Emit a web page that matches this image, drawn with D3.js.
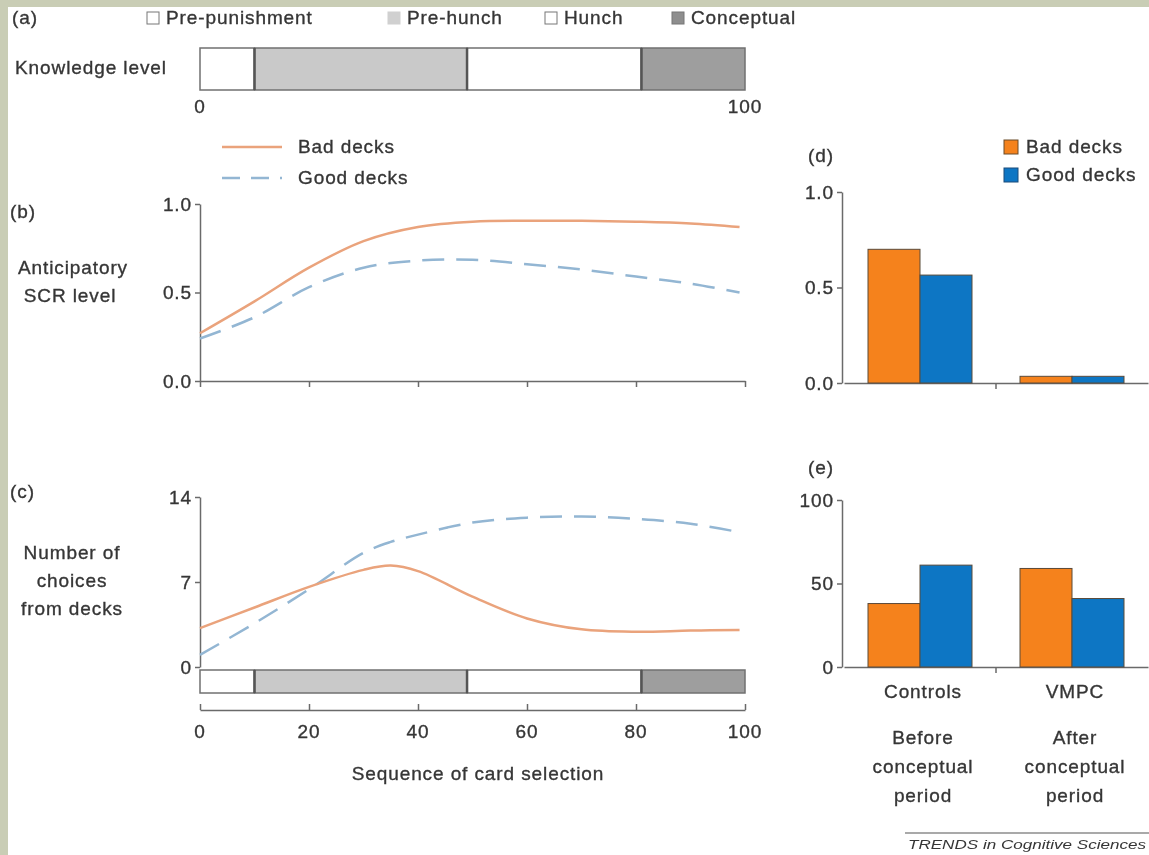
<!DOCTYPE html>
<html>
<head>
<meta charset="utf-8">
<script src="https://cdn.jsdelivr.net/npm/d3@7"></script>
<style>
  html, body { margin: 0; padding: 0; background: #c9cdb5; }
  svg { display: block; }
  text { font-family: "Liberation Sans", Arial, sans-serif; fill: #363636; letter-spacing: 0.9px;
         stroke: #363636; stroke-width: 0.35px; }
</style>
</head>
<body>
<div id="chart"></div>
<script>
// knowledge phases
const phases = ['Pre-punishment', 'Pre-hunch', 'Hunch', 'Conceptual']
const phaseStart = [0, 10, 49, 81]
const phaseEnd = [10, 49, 81, 100]
const phaseColor = ['#ffffff', '#c9c9c9', '#ffffff', '#9e9e9e']

// (b) anticipatory SCR
const seq = [0, 10, 20, 30, 40, 50, 60, 70, 80, 90, 99]
const scrBad = [0.27, 0.45, 0.64, 0.79, 0.87, 0.9, 0.905, 0.905, 0.9, 0.89, 0.87]
const scrGood = [0.24, 0.36, 0.53, 0.64, 0.68, 0.685, 0.66, 0.63, 0.59, 0.55, 0.50]

// (c) number of choices
const seqC = [0, 10, 20, 30, 35, 40, 50, 60, 70, 80, 90, 99]
const choiceBad = [3.2, 4.9, 6.6, 8.0, 8.35, 7.9, 5.8, 4.0, 3.1, 2.9, 3.0, 3.05]
const choiceGood = [1.0, 3.6, 6.4, 9.4, 10.3, 10.9, 11.9, 12.3, 12.4, 12.2, 11.8, 11.1]

// (d), (e) bars
const groups = ['Controls', 'VMPC']
const periods = [['Before', 'conceptual', 'period'], ['After', 'conceptual', 'period']]
const series = ['Bad decks', 'Good decks']
const dBad = [0.70, 0.035]
const dGood = [0.565, 0.035]
const eBad = [38, 59]
const eGood = [61, 41]

const orangeLine = '#eaa37c', blueLine = '#93b6d3'
const orangeBar = '#f5821f', blueBar = '#0a76c4'
const axisCol = '#6a6a6a'
const FS = 19

const W = 1149, H = 855
const root = d3.select('#chart').append('svg').attr('width', W).attr('height', H)
root.append('defs').append('filter').attr('id', 'soft')
  .append('feGaussianBlur').attr('stdDeviation', 0.55)
root.append('rect').attr('x', 8).attr('y', 7).attr('width', W - 8).attr('height', H - 7).attr('fill', '#fff')
const svg = root.append('g').attr('filter', 'url(#soft)')

const x = d3.scaleLinear().domain([0, 100]).range([200, 745])

function txt(g, s, tx, ty, anchor, size) {
  return g.append('text').attr('x', tx).attr('y', ty).attr('text-anchor', anchor || 'start')
    .style('font-size', (size || FS) + 'px').text(s)
}

function styleAxis(g) {
  g.selectAll('path, line').attr('stroke', axisCol).attr('stroke-width', 1.5)
  g.selectAll('text').style('font-size', FS + 'px').attr('fill', '#363636')
}

function knowledgeBar(y0, h) {
  svg.append('g').selectAll('rect').data(phases).enter().append('rect')
    .attr('x', (d, i) => x(phaseStart[i]))
    .attr('y', y0)
    .attr('width', (d, i) => x(phaseEnd[i]) - x(phaseStart[i]))
    .attr('height', h)
    .attr('fill', (d, i) => phaseColor[i])
    .attr('stroke', '#707070').attr('stroke-width', 1.5)
  // darker separators between phases
  svg.append('g').selectAll('line').data(phaseStart.slice(1)).enter().append('line')
    .attr('x1', d => x(d)).attr('x2', d => x(d))
    .attr('y1', y0).attr('y2', y0 + h)
    .attr('stroke', '#555').attr('stroke-width', 2.5)
}

// ---- (a)
txt(svg, '(a)', 12, 24)
const legA = svg.append('g')
const legAx = [147, 388, 545, 672]
phases.forEach((p, i) => {
  legA.append('rect').attr('x', legAx[i]).attr('y', 12).attr('width', 12).attr('height', 12)
    .attr('fill', phaseColor[i] === '#ffffff' ? '#fff' : (i === 1 ? '#d0d0d0' : '#8e8e8e'))
    .attr('stroke', i === 1 ? '#d0d0d0' : '#777').attr('stroke-width', 1)
  txt(legA, p, legAx[i] + 19, 24)
})
txt(svg, 'Knowledge level', 15, 74)
knowledgeBar(48, 42)
txt(svg, '0', x(0), 113, 'middle')
txt(svg, '100', x(100), 113, 'middle')

// ---- (b)
const yB = d3.scaleLinear().domain([0, 1]).range([381, 204])
const line = (sx, sy, xs) => d3.line().x((d, i) => sx(xs[i])).y(d => sy(d)).curve(d3.curveCatmullRom.alpha(0.5))

// legend for lines
svg.append('line').attr('x1', 222).attr('x2', 282).attr('y1', 147).attr('y2', 147)
  .attr('stroke', orangeLine).attr('stroke-width', 2.5)
txt(svg, 'Bad decks', 298, 153)
svg.append('line').attr('x1', 222).attr('x2', 282).attr('y1', 178).attr('y2', 178)
  .attr('stroke', blueLine).attr('stroke-width', 2.5).attr('stroke-dasharray', '18,11')
txt(svg, 'Good decks', 298, 184)

txt(svg, '(b)', 10, 218)
txt(svg, 'Anticipatory', 73, 274, 'middle')
txt(svg, 'SCR level', 70, 302, 'middle')

svg.append('g').attr('transform', 'translate(200,0)')
  .call(d3.axisLeft(yB).tickValues([0, 0.5, 1]).tickFormat(d3.format('.1f')).tickSize(5).tickSizeOuter(0))
  .call(styleAxis)
svg.append('g').attr('transform', 'translate(0,381)')
  .call(d3.axisBottom(x).tickValues([0, 20, 40, 60, 80, 100]).tickFormat('').tickSize(6).tickSizeOuter(0))
  .call(styleAxis)

svg.append('path').datum(scrGood).attr('d', line(x, yB, seq))
  .attr('fill', 'none').attr('stroke', blueLine).attr('stroke-width', 2.5).attr('stroke-dasharray', '22,12')
svg.append('path').datum(scrBad).attr('d', line(x, yB, seq))
  .attr('fill', 'none').attr('stroke', orangeLine).attr('stroke-width', 2.5)

// ---- (c)
const yC = d3.scaleLinear().domain([0, 14]).range([667, 497])
txt(svg, '(c)', 10, 498)
txt(svg, 'Number of', 72, 559, 'middle')
txt(svg, 'choices', 72, 587, 'middle')
txt(svg, 'from decks', 72, 615, 'middle')

svg.append('g').attr('transform', 'translate(200,0)')
  .call(d3.axisLeft(yC).tickValues([0, 7, 14]).tickSize(5).tickSizeOuter(0))
  .call(styleAxis)

knowledgeBar(670, 23)

svg.append('g').attr('transform', 'translate(0,710)')
  .call(d3.axisTop(x).tickValues([0, 20, 40, 60, 80, 100]).tickFormat('').tickSize(6).tickSizeOuter(0))
  .call(styleAxis)
svg.append('g').selectAll('text').data([0, 20, 40, 60, 80, 100]).enter().append('text')
  .attr('x', d => x(d)).attr('y', 738).attr('text-anchor', 'middle').style('font-size', FS + 'px').text(d => d)
txt(svg, 'Sequence of card selection', 478, 780, 'middle')

svg.append('path').datum(choiceGood).attr('d', line(x, yC, seqC))
  .attr('fill', 'none').attr('stroke', blueLine).attr('stroke-width', 2.5).attr('stroke-dasharray', '22,12')
svg.append('path').datum(choiceBad).attr('d', line(x, yC, seqC))
  .attr('fill', 'none').attr('stroke', orangeLine).attr('stroke-width', 2.5)

// ---- (d), (e) bar panels
const xg = d3.scaleBand().domain(groups).range([844, 1148])
const xs = d3.scaleBand().domain(series).range([24, 128])

function barPanel(yScale, bad, good, ticks, fmt, y0) {
  const g = svg.append('g')
  g.append('g').attr('transform', 'translate(842,0)')
    .call(d3.axisLeft(yScale).tickValues(ticks).tickFormat(fmt).tickSize(5).tickSizeOuter(0))
    .call(styleAxis)
  g.append('g').attr('transform', `translate(0,${y0})`)
    .call(d3.axisBottom(xg).tickValues([]).tickSizeOuter(0))
    .call(styleAxis)
  g.append('line').attr('x1', 996).attr('x2', 996).attr('y1', y0).attr('y2', y0 + 6)
    .attr('stroke', axisCol).attr('stroke-width', 1.5)
  const vals = [bad, good]
  series.forEach((s, si) => {
    g.selectAll('.b' + si).data(groups).enter().append('rect')
      .attr('x', d => xg(d) + xs(s))
      .attr('y', (d, i) => yScale(vals[si][i]))
      .attr('width', xs.bandwidth())
      .attr('height', (d, i) => y0 - yScale(vals[si][i]))
      .attr('fill', si === 0 ? orangeBar : blueBar)
      .attr('stroke', '#5a4a3a').attr('stroke-width', 1)
  })
}

const yD = d3.scaleLinear().domain([0, 1]).range([383, 192])
txt(svg, '(d)', 808, 162)
barPanel(yD, dBad, dGood, [0, 0.5, 1], d3.format('.1f'), 383)

svg.append('rect').attr('x', 1004).attr('y', 140).attr('width', 14).attr('height', 14)
  .attr('fill', orangeBar).attr('stroke', '#6a4a2a')
txt(svg, 'Bad decks', 1026, 153)
svg.append('rect').attr('x', 1004).attr('y', 168).attr('width', 14).attr('height', 14)
  .attr('fill', blueBar).attr('stroke', '#1a4a7a')
txt(svg, 'Good decks', 1026, 181)

const yE = d3.scaleLinear().domain([0, 100]).range([667, 500])
txt(svg, '(e)', 808, 474)
barPanel(yE, eBad, eGood, [0, 50, 100], d3.format('d'), 667)

groups.forEach((gname, i) => {
  const cx = xg(gname) + xg.bandwidth() / 2 + 3
  txt(svg, gname, cx, 698, 'middle')
  periods[i].forEach((p, j) => txt(svg, p, cx, 744 + j * 29, 'middle'))
})

// footer
svg.append('line').attr('x1', 905).attr('x2', 1149).attr('y1', 833).attr('y2', 833)
  .attr('stroke', '#555').attr('stroke-width', 1)
svg.append('text').attr('x', 908).attr('y', 849)
  .attr('textLength', 238).attr('lengthAdjust', 'spacingAndGlyphs')
  .style('font-size', '12px').style('font-style', 'italic').style('letter-spacing', '0px')
  .style('stroke-width', '0px')
  .text('TRENDS in Cognitive Sciences')
</script>
</body>
</html>
